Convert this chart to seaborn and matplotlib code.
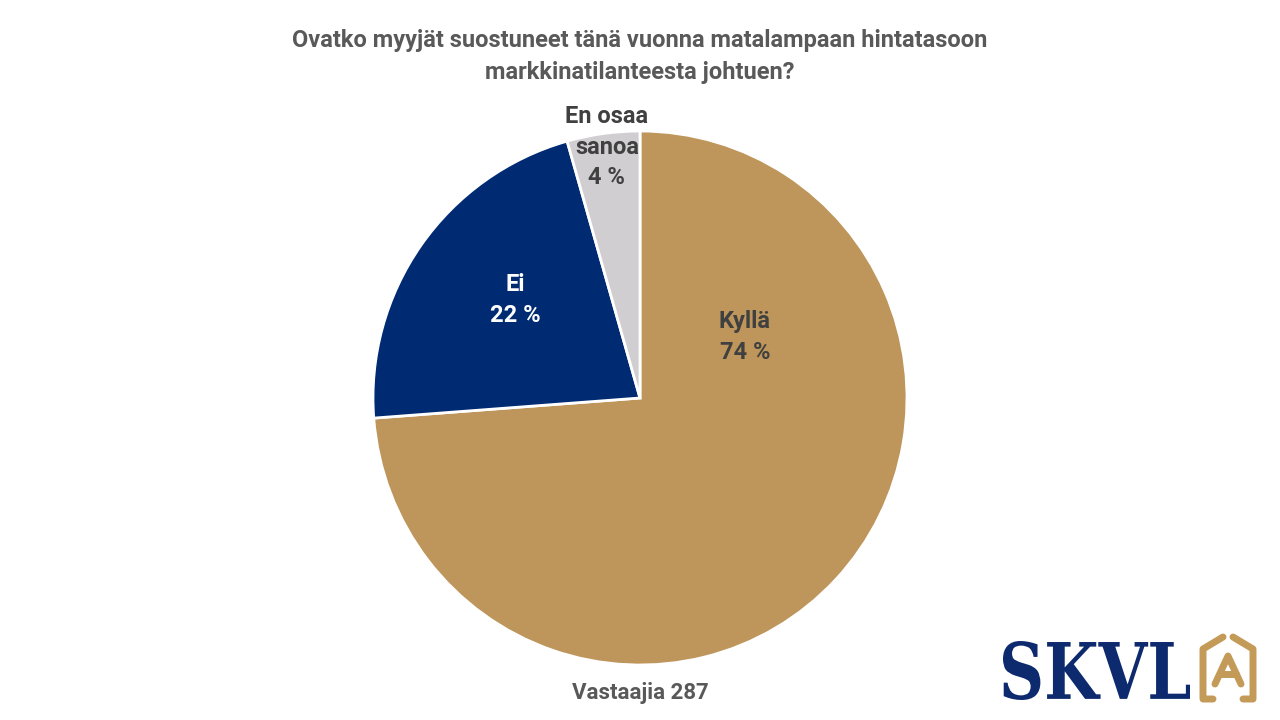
import matplotlib
matplotlib.use("Agg")
import matplotlib.pyplot as plt
import seaborn as sns
from matplotlib.textpath import TextPath
from matplotlib.patches import PathPatch
from matplotlib.font_manager import FontProperties
from matplotlib.transforms import Affine2D

sns.set_theme(style="white")
plt.rcParams['font.family'] = ['Roboto', 'DejaVu Sans']

labels = ['Kyllä', 'Ei', 'En osaa\nsanoa']
values = [73.8, 21.8, 4.4]
colors = ['#BE955A', '#002B73', '#D0CED0']
label_colors = ['#404040', 'white', '#404040']
label_pos = [(0.393, 0.228), (-0.468, 0.367), (-0.124, 0.94)]

title = 'Ovatko myyjät suostuneet tänä vuonna matalampaan hintatasoon\nmarkkinatilanteesta johtuen?'
footer = 'Vastaajia 287'

fig = plt.figure(figsize=(12.8, 7.2), dpi=100)
fig.patch.set_facecolor('white')

ax = fig.add_axes([373/1280, 55/720, 534/1280, 534/720])
ax.pie(values, colors=colors, startangle=90, counterclock=False,
       wedgeprops=dict(edgecolor='white', linewidth=2), radius=1)
ax.set_xlim(-1, 1)
ax.set_ylim(-1, 1)
ax.set_aspect('equal')
ax.axis('off')

for lab, v, c, (x, y) in zip(labels, values, label_colors, label_pos):
    ax.text(x, y, f'{lab}\n{round(v)} %', ha='center', va='center', color=c,
            fontsize=17, fontweight='bold', linespacing=1.42)

fig.text(0.5, 1 - 56/720, title, ha='center', va='center', fontsize=17,
         fontweight='bold', color='#595959', linespacing=1.5)
fig.text(0.5, 1 - 693/720, footer, ha='center', va='center', fontsize=16,
         fontweight='bold', color='#595959')

# logo, drawn in pixel coords
lax = fig.add_axes([0, 0, 1, 1])
lax.set_xlim(0, 1280)
lax.set_ylim(720, 0)
lax.axis('off')

tp = TextPath((0, 0), 'SKVL', prop=FontProperties(family='DejaVu Serif', weight='bold'), size=10)
ext = tp.get_extents()
x0, x1, y0, y1 = 1003, 1190, 641, 700
tr = (Affine2D().translate(-ext.x0, -ext.y0)
      .scale((x1 - x0) / ext.width, -(y1 - y0) / ext.height)
      .translate(x0, y1))
lax.add_patch(PathPatch(tr.transform_path(tp), facecolor='#0D2A6E',
                        edgecolor='none', transform=lax.transData))

gold = '#C49A58'
segs = [
    [(1213, 699), (1203, 699), (1203, 649), (1223, 637)],
    [(1243, 699), (1253, 699), (1253, 649), (1233, 637)],
    [(1215, 684), (1228, 656), (1241, 684)],
    [(1220, 674), (1236, 674)],
]
for s in segs:
    lax.plot([p[0] for p in s], [p[1] for p in s], color=gold, linewidth=5,
             solid_capstyle='round', solid_joinstyle='round')

fig.savefig('out.png', dpi=100, facecolor='white')
